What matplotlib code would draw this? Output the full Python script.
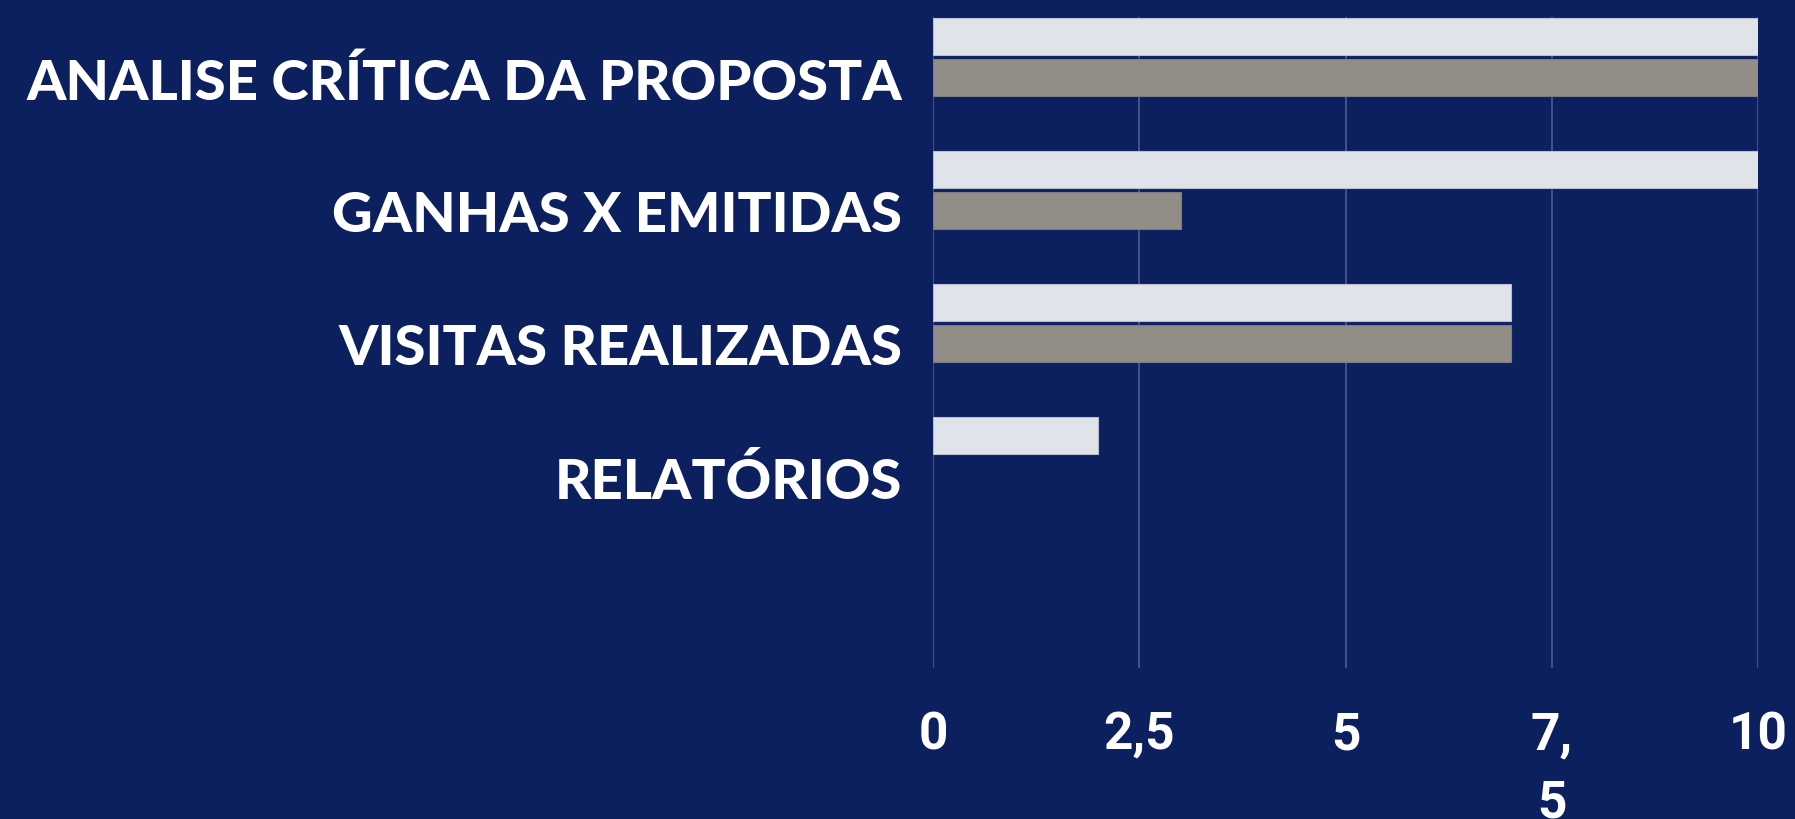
import matplotlib
matplotlib.use('Agg')
import matplotlib.pyplot as plt
import numpy as np

# data
categorias = ['ANALISE CRÍTICA DA PROPOSTA', 'GANHAS X EMITIDAS', 'VISITAS REALIZADAS', 'RELATÓRIOS']
serie_clara = [10, 10, 7, 2]
serie_cinza = [10, 3, 7, 0]
ticks_x = [0, 2.5, 5, 7.5, 10]
rotulos_x = ['0', '2,5', '5', '7,\n5', '10']

fundo = '#0c1f5f'
cor_clara = '#e0e3e9'
cor_cinza = '#928d86'

fig = plt.figure(figsize=(17.95, 8.2), dpi=100, facecolor=fundo)
ax = fig.add_axes([0.5198, 0.184, 0.4596, 0.794])
ax.set_facecolor(fundo)

y = np.arange(len(categorias))
alt = 0.278
desloc = 0.308

ax.barh(y - desloc, serie_clara, height=alt, color=cor_clara, edgecolor='#b9bfd0', linewidth=0.8, zorder=3)
ax.barh(y, [v if v > 0 else np.nan for v in serie_cinza], height=alt, color=cor_cinza,
        edgecolor='#7d7a80', linewidth=0.8, zorder=3)

ax.set_xlim(0, 10)
ax.set_ylim(4.44, -0.455)

ax.set_xticks(ticks_x)
ax.set_xticklabels(rotulos_x)
ax.grid(axis='x', color='#4b5c8e', linewidth=1.2, zorder=1)
ax.tick_params(axis='x', length=0, pad=30, colors='white')
ax.tick_params(axis='y', length=0, pad=22, colors='white')
for t in ax.get_xticklabels():
    t.set_family(['Liberation Sans Narrow', 'Roboto', 'DejaVu Sans'])
    t.set_fontweight('bold')
    t.set_fontsize(37)
    t.set_linespacing(1.45)

ax.set_yticks(y)
ax.set_yticklabels(categorias)
for t in ax.get_yticklabels():
    t.set_family(['Lato', 'DejaVu Sans'])
    t.set_fontweight('black')
    t.set_fontsize(40.5)

for s in ax.spines.values():
    s.set_visible(False)

fig.savefig('out.png', dpi=100, facecolor=fundo)
